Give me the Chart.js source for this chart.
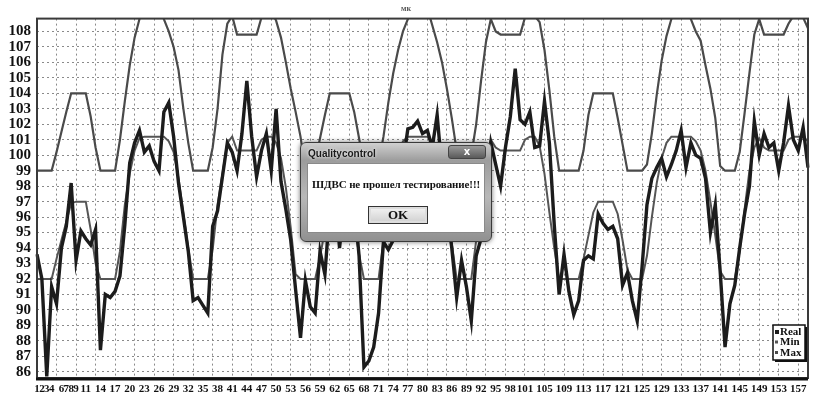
<!DOCTYPE html>
<html>
<head>
<meta charset="utf-8">
<script src="https://cdn.jsdelivr.net/npm/chart.js@4.4.1/dist/chart.umd.min.js"></script>
<style>
  html, body { margin: 0; padding: 0; background: #fff; }
  #wrap { position: relative; width: 813px; height: 398px; }
  #dlg {
    position: absolute; left: 300px; top: 142px; width: 192px; height: 100px;
    border: 1px solid #3a3a3a; border-radius: 6px; box-sizing: border-box;
    background: linear-gradient(#d0d0d0, #9c9c9c 18%, #b8b8b8 55%, #909090);
    box-shadow: 0 0 5px rgba(0,0,0,0.55);
  }
  #dlg .cap {
    position: absolute; left: 7px; top: 5px;
    font: bold 10px "Liberation Sans", sans-serif; color: #1a1a1a;
    text-shadow: 0 0 3px #fff;
  }
  #dlg .close {
    position: absolute; left: 147px; top: 2px; width: 38px; height: 14px;
    border: 1px solid #444; border-radius: 3px; box-sizing: border-box;
    background: linear-gradient(#9a9a9a, #5a5a5a);
    color: #fff; font: bold 10px "DejaVu Sans", sans-serif; text-align: center; line-height: 12px;
  }
  #dlg .panel {
    position: absolute; left: 6px; top: 20px; width: 178px; height: 70px;
    background: #fff; border: 1px solid #8a8a8a; box-sizing: border-box;
  }
  #dlg .msg {
    position: absolute; left: 0; top: 14px; width: 100%; text-align: center;
    font: bold 11px "Liberation Serif", serif; color: #111; white-space: nowrap;
    letter-spacing: -0.1px;
  }
  #dlg .ok {
    position: absolute; left: 60px; top: 42px; width: 60px; height: 18px;
    border: 1px solid #333; box-sizing: border-box; box-shadow: inset 0 0 0 2px #ddd;
    background: linear-gradient(#f4f4f4, #cfcfcf);
    font: bold 13px "Liberation Serif", serif; text-align: center; line-height: 15px; color: #111;
  }
</style>
</head>
<body>
<div id="wrap">
  <canvas id="qcChart" width="813" height="398"></canvas>
  <div id="dlg">
    <div class="cap">Qualitycontrol</div>
    <div class="close">x</div>
    <div class="panel">
      <div class="msg">ШДВС не прошел тестирование!!!</div>
      <div class="ok">OK</div>
    </div>
  </div>
</div>
<script>
/* Data */
const chartTitle = 'мк';
const seriesNames = ['Real', 'Min', 'Max'];

const realValues = [
  93.6, 92, 85.7, 91.5, 90.4, 94, 95.4, 98.2, 93.2, 95.1,
  94.6, 94.2, 95.2, 87.4, 91, 90.8, 91.2, 92.2, 95.5, 99.5,
  100.8, 101.6, 100.2, 100.6, 99.6, 99, 102.8, 103.4, 101.2, 98.2,
  96, 93.8, 90.6, 90.8, 90.3, 89.8, 95.4, 96.4, 98.6, 100.8,
  100.2, 99, 101.4, 104.8, 101.2, 98.6, 100.3, 101.4, 99, 103,
  98.3, 96.5, 94.5, 91.3, 88.2, 91.9, 90.2, 89.8, 93.8, 92.3,
  96.5, 98, 94, 97, 99, 97, 93.5, 86.3, 86.7, 87.6,
  89.8, 94.4, 93.9, 94.5, 97, 99.5, 101.7, 101.8, 102.2, 101.4,
  101.6, 100.5, 102.6, 99, 96.5, 94, 90.8, 93.2, 91.5, 89.3,
  93.5, 94.6, 98, 100.8, 99.4, 98, 100.5, 102.5, 105.6, 102.3,
  102, 102.8, 100.5, 100.6, 103.5, 100.8, 95.5, 91, 93.6, 91.2,
  89.7, 90.6, 93.2, 93.5, 93.3, 96.2, 95.6, 95.2, 95.4, 94.6,
  91.6, 92.4, 90.6, 89.3, 92.8, 96.8, 98.5, 99.2, 99.8, 98.6,
  99.4, 100.3, 101.6, 99.2, 100.8, 100, 99.8, 98.5, 95, 96.8,
  92.5, 87.6, 90.4, 91.6, 94, 96.2, 98, 102.2, 100, 101.4,
  100.5, 100.8, 99, 100.8, 103.2, 101, 100.3, 101.8, 99.2
];

const minValues = [
  92, 92, 92, 92, 93.3, 94.5, 95.7, 96.9, 97, 97,
  97, 95.2, 93, 92, 92, 92, 92, 93.8, 96.8, 98.8,
  100.3, 101.1, 101.2, 101.2, 101.2, 101.2, 101.2, 100.9, 100.2, 98.5,
  96.2, 94, 92, 92, 92, 92, 93.9, 96.8, 98.8, 100.8,
  101.2, 100.3, 100.3, 100.3, 100.3, 100.3, 101, 101.2, 101.2, 100.8,
  99.8, 97.9, 95.3, 92.3, 92, 92, 92, 92, 93.4, 95.2,
  97, 97, 97, 97, 97, 95.6, 93.6, 92, 92, 92,
  92, 94.5, 97.2, 99, 100.2, 100.9, 101.2, 101.2, 101.2, 101.2,
  101.2, 100.8, 100, 98.5, 96.5, 94.3, 92, 92, 92, 92,
  94.5, 97.5, 99.8, 101, 100.5, 100.3, 100.3, 100.3, 100.3, 100.3,
  101, 101.2, 101.2, 100.6, 98.8, 96.3, 94, 92, 92, 92,
  92, 92, 93.3, 94.8, 96.3, 97, 97, 97, 97, 96.2,
  94.5, 92.6, 92, 92, 92, 93.5, 96, 98.2, 99.8, 100.8,
  101.2, 101.2, 101.2, 101.2, 101.2, 100.9, 100.3, 99, 97, 94.8,
  92.5, 92, 92, 92, 93.8, 96.5, 99, 100.5, 101.1, 100.5,
  100.3, 100.3, 100.3, 100.3, 101, 101.2, 101.2, 101.2, 100.9
];

const maxValues = [
  99, 99, 99, 99, 100.2, 101.5, 102.8, 104, 104, 104,
  104, 102.5, 100.5, 99, 99, 99, 99, 101, 103.5, 105.8,
  107.6, 108.8, 109.5, 110, 110, 109.5, 108.8, 108, 107, 105.5,
  103, 100.8, 99, 99, 99, 99, 100.5, 103, 106.5, 108.5,
  109, 107.8, 107.8, 107.8, 107.8, 107.8, 108.9, 109.5, 109.3, 108.7,
  107.6, 106, 104.3, 102.8, 101.2, 99, 99, 99.6, 101.1, 102.6,
  104, 104, 104, 104, 104, 102.8, 101.1, 99.3, 99, 99,
  99.5, 101.2, 103.4, 105.3, 106.8, 108, 108.8, 109.5, 110, 110,
  109.5, 108.4, 107.3, 106, 104.3, 102.4, 100.3, 99, 99, 100,
  102, 104.8, 107.3, 108.8, 108, 107.8, 107.8, 107.8, 107.8, 107.8,
  108.9, 109.3, 109, 108.6, 106.8, 104.2, 101.2, 99, 99, 99,
  99, 99, 100.3, 102.6, 104, 104, 104, 104, 104, 102.4,
  100.7, 99, 99, 99, 99, 99.4, 101.4, 103.9, 106.1, 107.7,
  108.8, 109.5, 110, 109.5, 108.8, 108, 107.4, 105.8, 104.3, 102.4,
  99.3, 99, 99, 99, 100.2, 102.7, 105.3, 107.8, 108.8, 107.8,
  107.8, 107.8, 107.8, 107.8, 108.5, 109, 109, 108.9, 108.2
];

// x tick labels that are printed under the axis
const tickLabels = [
  '1', '2', '3', '4', '6', '7', '8', '9', '11', '14', '17', '20', '23', '26', '29',
  '32', '35', '38', '41', '44', '47', '50', '53', '56', '59', '62', '65', '68', '71',
  '74', '77', '80', '83', '86', '89', '92', '95', '98', '101', '105', '109', '113',
  '117', '121', '125', '129', '133', '137', '141', '145', '149', '153', '157'
];
const yTicks = [86, 87, 88, 89, 90, 91, 92, 93, 94, 95, 96, 97, 98, 99, 100, 101, 102, 103, 104, 105, 106, 107, 108];

// categories are just the sample numbers
const categories = realValues.map((v, i) => String(i + 1));

const serif = '"Liberation Serif", "Times New Roman", serif';

// Frame round the plot area
const framePlugin = {
  id: 'frame',
  afterDatasetsDraw(chart) {
    const { ctx, chartArea: a } = chart;
    ctx.save();
    ctx.strokeStyle = '#3a3a3a';
    ctx.lineWidth = 2;
    ctx.strokeRect(a.left, a.top, a.right - a.left, a.bottom - a.top);
    ctx.strokeStyle = '#111';
    ctx.lineWidth = 3;
    ctx.beginPath();
    ctx.moveTo(a.left - 1, a.bottom + 1);
    ctx.lineTo(a.right, a.bottom + 1);
    ctx.stroke();
    ctx.restore();
  }
};

// Small boxed legend in the bottom right corner
const boxLegend = {
  id: 'boxLegend',
  afterDraw(chart) {
    const { ctx, chartArea: a } = chart;
    const x = a.right - 35, y = a.bottom - 53, w = 32, h = 35;
    ctx.save();
    ctx.fillStyle = '#111';
    ctx.fillRect(x + 2, y + 2, w, h);
    ctx.fillStyle = '#fff';
    ctx.fillRect(x, y, w, h);
    ctx.strokeStyle = '#111';
    ctx.lineWidth = 1.5;
    ctx.strokeRect(x, y, w, h);
    ctx.font = 'bold 11px ' + serif;
    ctx.textBaseline = 'middle';
    chart.data.datasets.forEach((ds, i) => {
      const ty = y + 7 + i * 10.5;
      ctx.fillStyle = ds.borderColor;
      ctx.fillRect(x + 2, ty - 2, i === 0 ? 4 : 3, i === 0 ? 4 : 3);
      ctx.fillStyle = '#111';
      ctx.fillText(ds.label, x + 7, ty);
    });
    ctx.restore();
  }
};

const ctxChart = document.getElementById('qcChart').getContext('2d');

const qcChart = new Chart(ctxChart, {
  type: 'line',
  data: {
    labels: categories,
    datasets: [{
      label: seriesNames[0],
      data: realValues,
      borderColor: '#1c1c1c',
      borderWidth: 3.4,
      pointRadius: 0,
      tension: 0,
      fill: false
    },
    {
      label: seriesNames[1],
      data: minValues,
      borderColor: '#555555',
      borderWidth: 2,
      pointRadius: 0,
      tension: 0,
      fill: false
    },
    {
      label: seriesNames[2],
      data: maxValues,
      borderColor: '#4a4a4a',
      borderWidth: 2.2,
      pointRadius: 0,
      tension: 0,
      fill: false
    }]
  },
  options: {
    responsive: false,
    animation: false,
    layout: { padding: { top: 0, right: 1, bottom: 0, left: 0 } },
    plugins: {
      legend: { display: false },
      tooltip: { enabled: false },
      title: {
        display: true,
        text: chartTitle,
        color: '#555',
        font: { size: 8, weight: 'bold', family: serif },
        padding: { top: 4, bottom: 5 }
      }
    },
    scales: {
      x: {
        type: 'category',
        offset: false,
        grid: {
          drawTicks: false,
          color: (c) => (c.index % 4 === 0 ? '#8a8a8a' : 'rgba(0,0,0,0)'),
          lineWidth: 1
        },
        border: { display: false, dash: [2, 3] },
        ticks: {
          autoSkip: false,
          maxRotation: 0,
          minRotation: 0,
          padding: 5,
          color: '#111',
          font: { size: 11, weight: 'bold', family: serif },
          callback: function (value) {
            const lab = this.getLabelForValue(value);
            return tickLabels.includes(lab) ? lab : '';
          }
        },
        afterFit: (scale) => { scale.height = 20; }
      },
      y: {
        type: 'linear',
        min: 85.6,
        max: 108.83,
        grid: {
          drawTicks: false,
          color: '#8a8a8a',
          lineWidth: 1
        },
        border: { display: false, dash: [2, 3] },
        ticks: {
          autoSkip: false,
          padding: 6,
          color: '#111',
          font: { size: 15, weight: 'bold', family: serif }
        },
        afterBuildTicks: (scale) => { scale.ticks = yTicks.map(v => ({ value: v })); },
        afterFit: (scale) => { scale.width = 37; }
      }
    }
  },
  plugins: [framePlugin, boxLegend]
});
</script>
</body>
</html>
